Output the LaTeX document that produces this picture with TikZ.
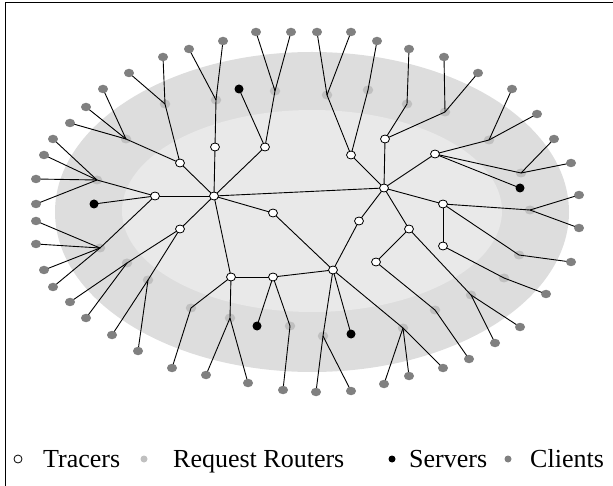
\documentclass[tikz,border=0pt]{standalone}
\usepackage{fontspec}
\setmainfont{Liberation Serif}
\usetikzlibrary{shapes.geometric}
\definecolor{bandouter}{RGB}{221,221,221}
\definecolor{bandinner}{RGB}{233,233,233}
\definecolor{routergray}{RGB}{192,192,192}
\definecolor{clientgray}{RGB}{128,128,128}
\pgfdeclarelayer{shade}
\pgfdeclarelayer{routers}
\pgfdeclarelayer{links}
\pgfsetlayers{shade,routers,links,main}
\begin{document}
\begin{tikzpicture}[x=1pt,y=-1pt,
  client/.style={ellipse,fill=clientgray,inner sep=0pt,minimum width=10pt,minimum height=8.5pt},
  router/.style={ellipse,fill=routergray,inner sep=0pt,minimum width=10.5pt,minimum height=9pt},
  server/.style={circle,fill=black,inner sep=0pt,minimum size=9pt},
  tracer/.style={ellipse,draw=black,fill=white,line width=0.8pt,inner sep=0pt,minimum width=9pt,minimum height=8pt},
  link/.style={draw=black,line width=0.9pt},
  legendtext/.style={anchor=base west,inner sep=0pt,font=\fontsize{26}{30}\selectfont}]
\useasboundingbox (0,0) rectangle (613,486);

% frame edges
\draw[line width=1pt] (5,486) -- (5,3) -- (613,3);

% shaded bands
\begin{pgfonlayer}{shade}
  \fill[bandouter] (312,212) ellipse [x radius=257pt, y radius=160pt];
  \fill[bandinner] (312,211) ellipse [x radius=190pt, y radius=101pt];
\end{pgfonlayer}

% request routers (under the links)
\begin{pgfonlayer}{routers}
\foreach \n/\x/\y in {r1/165/104, r2/126/139, r3/97/180, r4/216/100, r5/275/91,
  r6/327/95, r7/368/90, r8/407/104, r9/445/112, r10/489/140, r11/521/173,
  r12/530/210, r13/519/255, r14/504/278, r15/471/295, r16/435/310,
  r17/323/336, r18/403/328, r19/230/318, r20/290/326, r21/100/248,
  r22/127/263, r23/148/280, r24/191/308}
  \node[router] (\n) at (\x,\y) {};
\end{pgfonlayer}

% tracers
\foreach \n/\x/\y in {t1/180/163, t2/155/196, h1/214/196, t3/215/147, t4/265/147,
  t6/351/155, t7/385/139, h2/384/188, t8/435/154, t9/443/204, t10/443/246,
  t11/409/229, t12/376/262, t13/359/221, h3/333/270, t14/273/213,
  t15/231/277, t16/273/277, t17/180/229}
  \node[tracer] (\n) at (\x,\y) {};

% servers
\foreach \n/\x/\y in {s1/239/89, s2/520/188, s3/351/334, s4/257/326, s5/94/204}
  \node[server] (\n) at (\x,\y) {};

% clients
\foreach \n/\x/\y in {c1/36/179, c2/44/155, c3/53/139, c4/70/123, c5/86/107,
  c6/103/89, c7/129/73, c8/163/57, c9/189/49, c10/223/41, c11/256/32,
  c12/291/32, c13/317/32, c14/351/32, c15/377/41, c16/409/49, c17/444/57,
  c18/478/73, c19/512/89, c20/537/114, c21/554/139, c22/571/163,
  c23/579/195, c24/579/228, c25/571/262, c26/546/294, c27/520/327,
  c28/495/343, c29/469/359, c30/443/368, c31/409/376, c32/384/384,
  c33/351/391, c34/316/392, c35/283/390, c36/248/383, c37/206/375,
  c38/172/368, c39/138/351, c40/112/335, c41/86/318, c42/70/302,
  c43/53/287, c44/44/270, c45/36/244, c46/36/221, c47/36/204}
  \node[client] (\n) at (\x,\y) {};

% links
\begin{pgfonlayer}{links}
\foreach \a/\b in {h1/t1, h1/t2, h1/t3, h1/t4, h1/h2, h1/t14, h1/t15, h1/t17,
  h2/t6, h2/t7, h2/t8, h2/t9, h2/t11, h2/t13,
  t8/r10, t8/r11, t8/s2, t9/r12, t9/t10, t9/r13, t10/r14,
  t11/r15, t11/t12, t12/r16, t13/h3, t14/h3, h3/t16, h3/r17, h3/s3, h3/r18,
  t15/t16, t15/r19, t15/r24, t16/s4, t16/r20, t17/r22, t17/r23,
  t1/r1, t1/r2, t2/r3, t2/s5, t2/r21, t3/r4, t4/s1, t4/r5,
  t6/r6, t6/r7, t7/r8, t7/r9,
  r3/c1, r3/c2, r3/c3, r2/c4, r2/c5, r2/c6, r1/c7, r1/c8, r4/c9, r4/c10,
  r5/c11, r5/c12, r6/c13, r6/c14, r7/c15, r8/c16, r9/c17, r9/c18,
  r10/c19, r10/c20, r11/c21, r11/c22, r12/c23, r12/c24, r13/c25, r14/c26,
  r15/c27, r15/c28, r16/c29, r18/c30, r18/c31, r18/c32, r17/c33, r17/c34,
  r20/c35, r19/c36, r19/c37, r24/c38, r23/c39, r23/c40, r22/c41, r22/c42,
  r21/c43, r21/c44, r21/c45, r21/c46, r3/c47}
  \draw[link] (\a.center) -- (\b.center);
\end{pgfonlayer}

% legend
\node[tracer,minimum width=8pt,minimum height=8pt] (lgtracer) at (18,459) {};
\node[legendtext] (lgtracertext) at (43,467) {Tracers};
\node[circle,fill=routergray,inner sep=0pt,minimum size=7pt] (lgrouter) at (144,459) {};
\node[legendtext] (lgroutertext) at (173,467) {Request Routers};
\node[circle,fill=black,inner sep=0pt,minimum size=7pt] (lgserver) at (392,459) {};
\node[legendtext] (lgservertext) at (409,467) {Servers};
\node[circle,fill=clientgray,inner sep=0pt,minimum size=7pt] (lgclient) at (508,459) {};
\node[legendtext] (lgclienttext) at (530,467) {Clients};
\end{tikzpicture}
\end{document}
